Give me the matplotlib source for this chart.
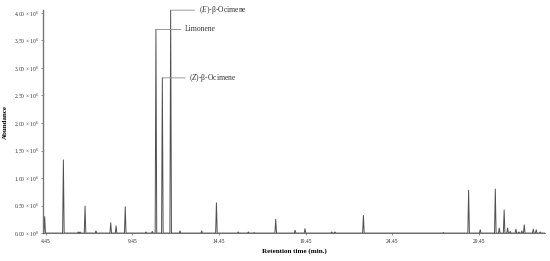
import numpy as np
import matplotlib.pyplot as plt

# retention times (min) and peak heights (abundance, x1e6)
rt = [4.39, 5.47, 6.33, 6.43, 6.72, 7.35, 8.20, 8.51, 9.04, 10.24, 10.60,
      10.81, 11.18, 11.66, 12.20, 13.45, 14.30, 15.56, 16.14, 16.47, 17.72,
      18.84, 19.41, 20.95, 21.14, 22.78, 27.39, 28.85, 29.52, 30.39, 30.62,
      30.90, 31.10, 31.25, 31.58, 31.75, 31.92, 32.06, 32.58, 32.75, 32.98]
height = [0.30, 1.33, 0.02, 0.02, 0.49, 0.04, 0.19, 0.13, 0.48, 0.02, 0.03,
          3.70, 2.82, 4.05, 0.04, 0.04, 0.55, 0.02, 0.02, 0.01, 0.25,
          0.05, 0.08, 0.02, 0.02, 0.32, 0.01, 0.78, 0.06, 0.80, 0.09,
          0.42, 0.09, 0.03, 0.07, 0.02, 0.04, 0.15, 0.07, 0.06, 0.02]

labelled = {"Limonene": 11, "($\\it{Z}$)-β-Ocimene": 12, "($\\it{E}$)-β-Ocimene": 13}
label_dx = {"Limonene": 29, "($\\it{Z}$)-β-Ocimene": 27, "($\\it{E}$)-β-Ocimene": 28}

xticks = [4.45, 9.45, 14.45, 19.45, 24.45, 29.45]
yticks = [0, 0.5, 1.0, 1.5, 2.0, 2.5, 3.0, 3.5, 4.0]

plt.rcParams['font.family'] = ['Liberation Serif', 'DejaVu Serif']
plt.rcParams['mathtext.fontset'] = 'custom'
plt.rcParams['mathtext.rm'] = 'Liberation Serif'
plt.rcParams['mathtext.it'] = 'Liberation Serif:italic'

# build the trace: baseline with narrow triangular peaks
w = 0.045
xs, ys = [4.32], [0.0]
for t, h in zip(rt, height):
    xs += [t - w, t, t + w]
    ys += [0.0, h * 1e6, 0.0]
xs.append(33.26)
ys.append(0.0)

fig = plt.figure(figsize=(5.5, 2.61), dpi=100)
ax = fig.add_axes([0.079, 0.107, 0.912, 0.854])
ax.plot(xs, ys, color='#505050', lw=0.7)

for name, i in labelled.items():
    ax.annotate(name, xy=(rt[i], height[i] * 1e6), xytext=(label_dx[name], 0),
                textcoords='offset pixels', va='center', ha='left', fontsize=5.5,
                color='#333333',
                arrowprops=dict(arrowstyle='-', color='#8a8a8a', lw=0.6,
                                shrinkA=1, shrinkB=0))

ax.set_xlim(4.32, 33.26)
ax.set_ylim(0, 4.05e6)
ax.set_xticks(xticks)
ax.set_xticklabels(['%.2f' % v for v in xticks])
ax.set_yticks([v * 1e6 for v in yticks])
ax.set_yticklabels(['%.2f × 10$^{%d}$' % (v, 0 if v == 0 else 6) for v in yticks])
ax.tick_params(labelsize=4, length=1.5, width=0.5, color='#666666',
               labelcolor='#333333', pad=2)
ax.tick_params(axis='x', pad=3)

for s in ['top', 'right']:
    ax.spines[s].set_visible(False)
ax.spines['left'].set_color('#777777')
ax.spines['left'].set_linewidth(1.0)
ax.spines['bottom'].set_color('#555555')
ax.spines['bottom'].set_linewidth(0.6)

ax.set_xlabel('Retention time (min.)', fontsize=5, fontweight='bold', labelpad=3)
ax.set_ylabel('Abundance', fontsize=5, fontweight='bold', labelpad=4)

fig.savefig('out.png', dpi=100)
